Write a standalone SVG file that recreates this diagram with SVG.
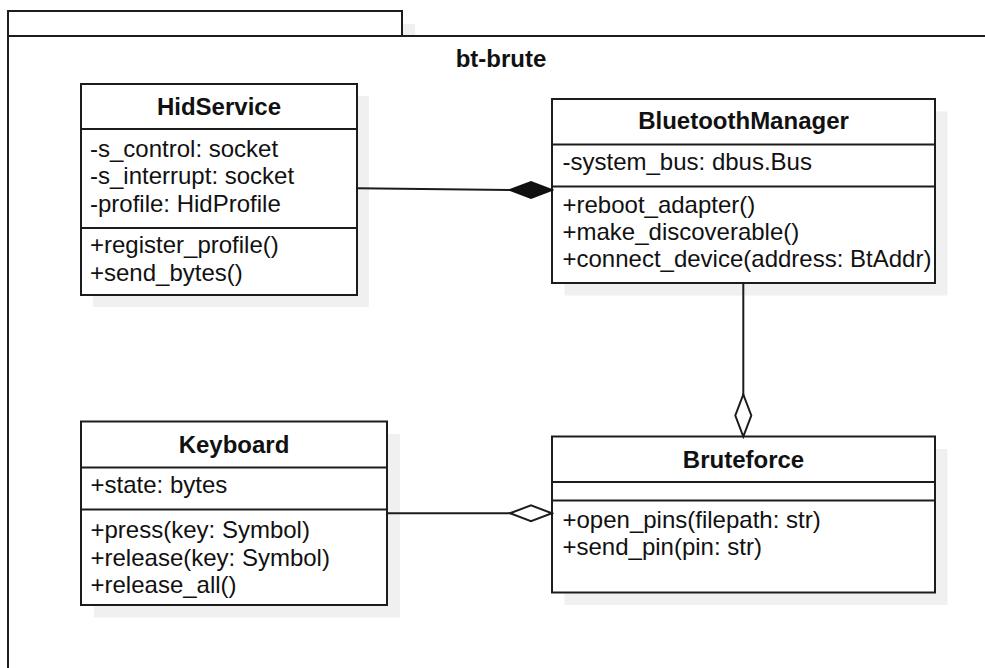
<svg xmlns="http://www.w3.org/2000/svg" width="985" height="668" viewBox="0 0 985 668">
  <style>
    .shadow { fill: #f0f0f0; stroke: none; }
    .box { fill: #ffffff; stroke: #1c1c1c; stroke-width: 2; }
    .div { stroke: #1c1c1c; stroke-width: 2; fill: none; }
    .edge { stroke: #1c1c1c; stroke-width: 2; fill: none; }
    .title { font-family: "Liberation Sans", Arial, sans-serif; font-size: 24px; font-weight: bold; fill: #111111; text-anchor: middle; }
    .member { font-family: "Liberation Sans", Arial, sans-serif; font-size: 24px; fill: #111111; }
  </style>
  <defs>
    <marker id="diamondFilled" viewBox="-2 -10 46 20" markerWidth="46" markerHeight="20" refX="42" refY="0" orient="auto" markerUnits="userSpaceOnUse">
      <path d="M0,0 L21,-8 L42,0 L21,8 Z" fill="#111111" stroke="#111111" stroke-width="2" stroke-linejoin="miter"/>
    </marker>
    <marker id="diamondOpen" viewBox="-2 -10 46 20" markerWidth="46" markerHeight="20" refX="42" refY="0" orient="auto" markerUnits="userSpaceOnUse">
      <path d="M0,0 L21,-8 L42,0 L21,8 Z" fill="#ffffff" stroke="#1c1c1c" stroke-width="2" stroke-linejoin="miter"/>
    </marker>
  </defs>

  <rect width="985" height="668" fill="#ffffff"/>

  <!-- package frame -->
  <g id="package-bt-brute">
    <rect class="shadow" x="21" y="24" width="394" height="25"/>
    <rect class="box" x="8" y="11" width="394" height="25"/>
    <rect class="box" x="8" y="36" width="1000" height="700"/>
    <text class="title" x="501" y="67">bt-brute</text>
  </g>

  <!-- HidService class -->
  <g id="HidService">
    <rect class="shadow" x="93" y="96" width="276" height="211"/>
    <rect class="box" x="81" y="84" width="276" height="211"/>
    <line class="div" x1="81" y1="129" x2="357" y2="129"/>
    <line class="div" x1="81" y1="228" x2="357" y2="228"/>
    <text class="title" x="219" y="115">HidService</text>
    <text class="member" x="90" y="157">-s_control: socket</text>
    <text class="member" x="90" y="184.3">-s_interrupt: socket</text>
    <text class="member" x="90" y="211.6">-profile: HidProfile</text>
    <text class="member" x="90" y="253.3">+register_profile()</text>
    <text class="member" x="90" y="280.5">+send_bytes()</text>
  </g>

  <!-- BluetoothManager class -->
  <g id="BluetoothManager">
    <rect class="shadow" x="564.5" y="111.5" width="383" height="184"/>
    <rect class="box" x="552" y="99" width="383" height="184"/>
    <line class="div" x1="552" y1="144.5" x2="935" y2="144.5"/>
    <line class="div" x1="552" y1="186.5" x2="935" y2="186.5"/>
    <text class="title" x="743.5" y="129">BluetoothManager</text>
    <text class="member" x="562.5" y="170.3">-system_bus: dbus.Bus</text>
    <text class="member" x="562.5" y="213">+reboot_adapter()</text>
    <text class="member" x="562.5" y="239.8">+make_discoverable()</text>
    <text class="member" x="562.5" y="267">+connect_device(address: BtAddr)</text>
  </g>

  <!-- Keyboard class -->
  <g id="Keyboard">
    <rect class="shadow" x="94" y="434" width="306" height="183.5"/>
    <rect class="box" x="81" y="421.5" width="306" height="183.5"/>
    <line class="div" x1="81" y1="467.5" x2="387" y2="467.5"/>
    <line class="div" x1="81" y1="509.5" x2="387" y2="509.5"/>
    <text class="title" x="234" y="453">Keyboard</text>
    <text class="member" x="90.5" y="492.7">+state: bytes</text>
    <text class="member" x="90.5" y="538.3">+press(key: Symbol)</text>
    <text class="member" x="90.5" y="565.8">+release(key: Symbol)</text>
    <text class="member" x="90.5" y="592.8">+release_all()</text>
  </g>

  <!-- Bruteforce class -->
  <g id="Bruteforce">
    <rect class="shadow" x="564.5" y="449" width="383" height="156"/>
    <rect class="box" x="552" y="436.5" width="383" height="156"/>
    <line class="div" x1="552" y1="482" x2="935" y2="482"/>
    <line class="div" x1="552" y1="500.5" x2="935" y2="500.5"/>
    <text class="title" x="743.5" y="467.5">Bruteforce</text>
    <text class="member" x="562.5" y="528.3">+open_pins(filepath: str)</text>
    <text class="member" x="562.5" y="555.2">+send_pin(pin: str)</text>
  </g>

  <!-- associations -->
  <g id="connectors">
    <path class="edge" d="M357,188.3 L510,190 L552,190" marker-end="url(#diamondFilled)"/>
    <path class="edge" d="M743.3,283 L743.3,436.5" marker-end="url(#diamondOpen)"/>
    <path class="edge" d="M387,513.3 L552,513.3" marker-end="url(#diamondOpen)"/>
  </g>
</svg>
